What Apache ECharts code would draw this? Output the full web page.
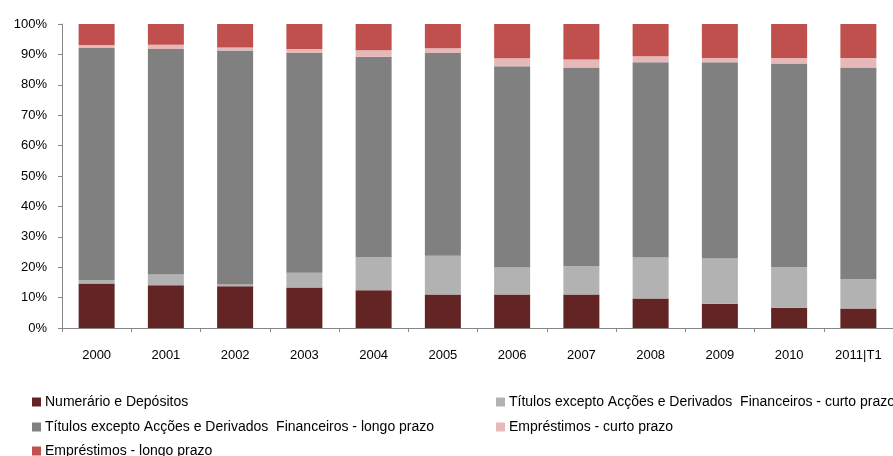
<!DOCTYPE html>
<html>
<head>
<meta charset="utf-8">
<script src="https://cdn.jsdelivr.net/npm/echarts@6/dist/echarts.min.js"></script>
<style>
  html, body { margin: 0; padding: 0; background: #fff; }
  #chart { width: 893px; height: 456px; }
</style>
</head>
<body>
<div id="chart"></div>
<script>
// Categories (years)
const categories = ['2000', '2001', '2002', '2003', '2004', '2005', '2006', '2007', '2008', '2009', '2010', '2011|T1'];

// Share of each instrument (%) per year
const numerarioDepositos = [14.6, 14.1, 13.7, 13.3, 12.4, 11.0, 11.0, 11.0, 9.7, 8.0, 6.7, 6.4];
const titulosCurto       = [1.1, 3.5, 0.6, 4.9, 10.9, 12.8, 8.9, 9.3, 13.5, 14.9, 13.3, 9.6];
const titulosLongo       = [76.4, 74.2, 77.0, 72.3, 65.9, 66.7, 66.2, 65.4, 64.2, 64.5, 67.0, 69.7];
const emprestimosCurto   = [1.0, 1.4, 1.0, 1.3, 2.2, 1.5, 2.6, 2.6, 2.0, 1.4, 1.8, 3.1];
const emprestimosLongo   = [6.9, 6.8, 7.7, 8.2, 8.6, 8.0, 11.3, 11.7, 10.6, 11.2, 11.2, 11.2];

// Y-axis ticks
const yTicks = [0, 10, 20, 30, 40, 50, 60, 70, 80, 90, 100];

const names = {
  num: 'Numerário e Depósitos',
  tc: 'Títulos excepto Acções e Derivados  Financeiros - curto prazo',
  tl: 'Títulos excepto Acções e Derivados  Financeiros - longo prazo',
  ec: 'Empréstimos - curto prazo',
  el: 'Empréstimos - longo prazo'
};

const FONT = 'Liberation Sans';
const chart = echarts.init(document.getElementById('chart'), null, { renderer: 'canvas' });

function bar(name, data, color) {
  return {
    name: name,
    type: 'bar',
    stack: 'total',
    barWidth: 36,
    data: data,
    itemStyle: { color: color },
    emphasis: { disabled: true }
  };
}

// One legend per entry, laid out in two columns
function legendEntry(name, left, top) {
  return {
    left: left, top: top, padding: 0,
    itemWidth: 9, itemHeight: 9, itemGap: 0,
    icon: 'rect',
    selectedMode: false,
    textStyle: { fontFamily: FONT, fontSize: 14, color: '#000', padding: [0, 0, 0, -1] },
    data: [name]
  };
}

chart.setOption({
  animation: false,
  backgroundColor: '#fff',
  grid: { left: 62, top: 24, width: 838, height: 304, containLabel: false },
  legend: [
    legendEntry(names.num, 32, 395),
    legendEntry(names.tc, 496, 395),
    legendEntry(names.tl, 32, 420),
    legendEntry(names.ec, 496, 420),
    legendEntry(names.el, 32, 444)
  ],
  xAxis: {
    type: 'category',
    data: categories,
    axisLine: { show: true, lineStyle: { color: '#868686', width: 1 } },
    axisTick: { show: true, length: 4, inside: false, lineStyle: { color: '#868686' } },
    axisLabel: { fontFamily: FONT, fontSize: 13, color: '#000', margin: 21 },
    splitLine: { show: false }
  },
  yAxis: {
    type: 'value',
    min: yTicks[0],
    max: yTicks[yTicks.length - 1],
    interval: yTicks[1] - yTicks[0],
    axisLine: { show: true, lineStyle: { color: '#868686', width: 1 } },
    axisTick: { show: true, length: 4, lineStyle: { color: '#868686' } },
    axisLabel: { fontFamily: FONT, fontSize: 13, color: '#000', margin: 15, formatter: '{value}%' },
    splitLine: { show: false }
  },
  series: [
    bar(names.num, numerarioDepositos, '#632523'),
    bar(names.tc, titulosCurto, '#B2B2B2'),
    bar(names.tl, titulosLongo, '#808080'),
    bar(names.ec, emprestimosCurto, '#E6B9B8'),
    bar(names.el, emprestimosLongo, '#C0504D')
  ]
});
</script>
</body>
</html>
